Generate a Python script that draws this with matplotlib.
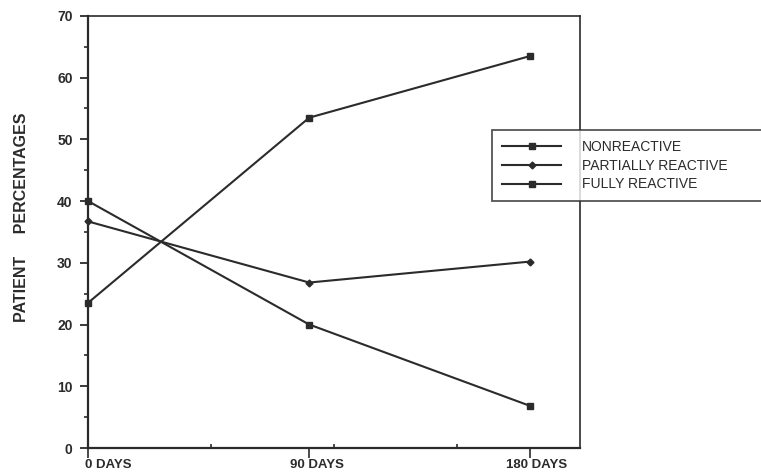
import matplotlib.pyplot as plt
from matplotlib.ticker import MultipleLocator, FixedLocator
from matplotlib.transforms import ScaledTranslation

# data
days = [0, 90, 180]
nonreactive = [23.5, 53.5, 63.5]
partially = [36.7, 26.8, 30.2]
fully = [40.0, 20.0, 6.8]
series_names = ["NONREACTIVE", "PARTIALLY REACTIVE", "FULLY REACTIVE"]
xlabels = ["0 DAYS", "90 DAYS", "180 DAYS"]

plt.rcParams['font.family'] = ['Liberation Sans', 'DejaVu Sans']
ink = '#2b2b2b'

fig = plt.figure(figsize=(7.61, 4.76), dpi=100)
ax = fig.add_axes([0.1156, 0.0588, 0.646, 0.908])

ax.plot(days, nonreactive, color=ink, lw=1.5, marker='s', ms=5, label=series_names[0], clip_on=False)
ax.plot(days, partially, color=ink, lw=1.5, marker='D', ms=3.5, label=series_names[1], clip_on=False)
ax.plot(days, fully, color=ink, lw=1.5, marker='s', ms=5, label=series_names[2], clip_on=False)

ax.set_xlim(0, 200)
ax.set_ylim(0, 70)
for s in ax.spines.values():
    s.set_color(ink)
    s.set_linewidth(1.6)
ax.spines['top'].set_linewidth(1.2)
ax.spines['right'].set_linewidth(1.2)

# y axis
ax.yaxis.set_major_locator(MultipleLocator(10))
ax.yaxis.set_minor_locator(MultipleLocator(5))
ax.tick_params(axis='y', which='major', direction='out', length=6, width=1.3, color=ink,
               labelsize=10, labelcolor=ink, pad=5)
ax.tick_params(axis='y', which='minor', direction='out', length=3, width=1.2, color=ink)
for lab in ax.get_yticklabels():
    lab.set_fontweight('bold')

# x axis
ax.xaxis.set_major_locator(FixedLocator(days))
ax.xaxis.set_minor_locator(FixedLocator([50, 100, 150]))
ax.set_xticklabels(xlabels, fontweight='bold')
ax.tick_params(axis='x', which='major', direction='out', length=7, width=1.2, color=ink,
               labelsize=9.5, labelcolor=ink, pad=1)
ax.tick_params(axis='x', which='minor', direction='in', length=3, width=1.2, color=ink)
shifts = [20, 8, 6]
for lab, dx in zip(ax.get_xticklabels(), shifts):
    lab.set_transform(lab.get_transform() + ScaledTranslation(dx / 100, 0, fig.dpi_scale_trans))

ax.set_ylabel("PATIENT     PERCENTAGES", fontsize=11.5, fontweight='bold', color=ink)
ax.yaxis.set_label_coords(-0.12, 0.535)

leg = ax.legend(loc='upper left', bbox_to_anchor=(492 / 761, 1 - 212 / 476, 0.5, 82 / 476),
                bbox_transform=fig.transFigure, mode='expand', frameon=True, fancybox=False,
                edgecolor=ink, fontsize=10, handlelength=4.3, handletextpad=1.5,
                labelspacing=0.35, borderpad=0.7, borderaxespad=0)
leg.get_frame().set_linewidth(1.3)
for t in leg.get_texts():
    t.set_color(ink)

fig.savefig('out.png', dpi=100)
